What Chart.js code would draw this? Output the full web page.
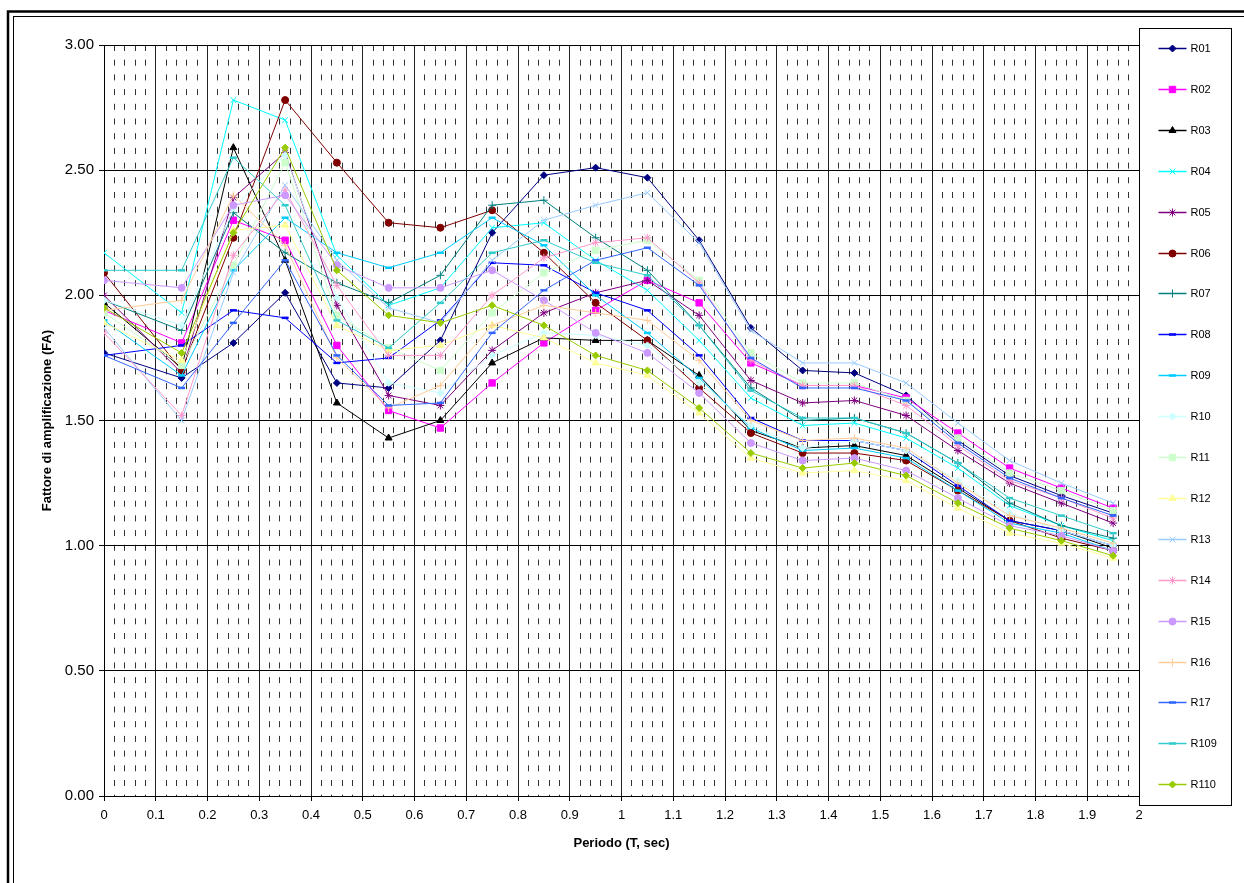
<!DOCTYPE html>
<html>
<head>
<meta charset="utf-8">
<title>Fattore di amplificazione</title>
<script src="https://cdn.jsdelivr.net/npm/chart.js@4/dist/chart.umd.min.js"></script>
<style>
  html, body { margin: 0; padding: 0; background: #fff; }
  #wrap { width: 1244px; height: 883px; }
</style>
</head>
<body>
<div id="wrap"><canvas id="fa" width="1244" height="883"></canvas></div>
<script>
// periods (T, sec)
const periods = [0, 0.15, 0.25, 0.35, 0.45, 0.55, 0.65, 0.75, 0.85, 0.95, 1.05, 1.15, 1.25, 1.35, 1.45, 1.55, 1.65, 1.75, 1.85, 1.95];

// amplification factor per site
const r01 = [1.77, 1.67, 1.81, 2.01, 1.65, 1.63, 1.82, 2.25, 2.48, 2.51, 2.47, 2.22, 1.87, 1.70, 1.69, 1.60, 1.42, 1.28, 1.20, 1.13];
const r02 = [1.94, 1.81, 2.30, 2.22, 1.80, 1.54, 1.47, 1.65, 1.81, 1.94, 2.06, 1.97, 1.73, 1.64, 1.64, 1.59, 1.45, 1.31, 1.23, 1.15];
const r03 = [1.97, 1.71, 2.59, 2.14, 1.57, 1.43, 1.50, 1.73, 1.83, 1.82, 1.82, 1.68, 1.46, 1.39, 1.40, 1.36, 1.23, 1.10, 1.06, 0.99];
const r04 = [2.17, 1.93, 2.78, 2.70, 2.16, 1.96, 2.03, 2.27, 2.29, 2.14, 2.02, 1.82, 1.59, 1.48, 1.49, 1.43, 1.31, 1.16, 1.08, 1.02];
const r05 = [2.00, 1.69, 2.39, 2.57, 1.96, 1.60, 1.56, 1.78, 1.93, 2.01, 2.06, 1.92, 1.66, 1.57, 1.58, 1.52, 1.38, 1.25, 1.17, 1.09];
const r06 = [2.09, 1.70, 2.23, 2.78, 2.53, 2.29, 2.27, 2.34, 2.17, 1.97, 1.82, 1.63, 1.45, 1.37, 1.37, 1.34, 1.22, 1.10, 1.03, 0.98];
const r07 = [1.98, 1.86, 2.33, 2.17, 2.05, 1.97, 2.08, 2.36, 2.38, 2.23, 2.10, 1.88, 1.63, 1.50, 1.51, 1.45, 1.33, 1.17, 1.08, 1.03];
const r08 = [1.76, 1.80, 1.94, 1.91, 1.73, 1.75, 1.90, 2.13, 2.12, 2.01, 1.94, 1.76, 1.51, 1.42, 1.42, 1.38, 1.24, 1.10, 1.06, 1.00];
const r09 = [1.90, 1.68, 2.10, 2.31, 2.17, 2.11, 2.17, 2.31, 2.20, 2.00, 1.85, 1.67, 1.47, 1.38, 1.39, 1.35, 1.22, 1.09, 1.05, 0.98];
const r10 = [1.98, 1.88, 2.35, 2.56, 1.99, 1.65, 1.61, 1.76, 1.85, 1.84, 1.80, 1.65, 1.48, 1.39, 1.42, 1.38, 1.26, 1.13, 1.06, 1.00];
const r11 = [1.93, 1.72, 2.12, 2.53, 1.92, 1.79, 1.70, 1.93, 2.09, 2.18, 2.22, 2.06, 1.77, 1.65, 1.65, 1.58, 1.43, 1.29, 1.22, 1.14];
const r12 = [1.89, 1.74, 2.26, 2.28, 1.88, 1.78, 1.80, 1.88, 1.83, 1.73, 1.68, 1.53, 1.35, 1.29, 1.30, 1.26, 1.15, 1.05, 1.01, 0.95];
const r13 = [1.87, 1.50, 2.09, 2.44, 2.14, 1.95, 1.89, 2.14, 2.30, 2.36, 2.41, 2.21, 1.86, 1.73, 1.73, 1.65, 1.49, 1.34, 1.25, 1.17];
const r14 = [1.85, 1.52, 2.16, 2.42, 2.04, 1.76, 1.76, 2.00, 2.15, 2.21, 2.23, 2.05, 1.74, 1.64, 1.64, 1.56, 1.40, 1.26, 1.19, 1.11];
const r15 = [2.06, 2.03, 2.36, 2.40, 2.12, 2.03, 2.03, 2.10, 1.98, 1.85, 1.77, 1.61, 1.41, 1.34, 1.35, 1.30, 1.19, 1.08, 1.04, 0.98];
const r16 = [1.94, 1.98, 2.40, 2.20, 1.75, 1.55, 1.64, 1.88, 1.96, 1.93, 1.90, 1.74, 1.50, 1.42, 1.43, 1.39, 1.25, 1.12, 1.07, 1.01];
const r17 = [1.76, 1.63, 1.89, 2.14, 1.76, 1.56, 1.57, 1.85, 2.02, 2.14, 2.19, 2.04, 1.75, 1.63, 1.63, 1.58, 1.41, 1.27, 1.19, 1.12];
const r109 = [2.10, 2.10, 2.55, 2.36, 1.90, 1.79, 1.97, 2.17, 2.22, 2.13, 2.08, 1.88, 1.62, 1.51, 1.51, 1.45, 1.33, 1.19, 1.12, 1.05];
const r110 = [1.95, 1.77, 2.25, 2.59, 2.10, 1.92, 1.89, 1.96, 1.88, 1.76, 1.70, 1.55, 1.37, 1.31, 1.33, 1.28, 1.17, 1.07, 1.02, 0.96];

const seriesNames = ['R01', 'R02', 'R03', 'R04', 'R05', 'R06', 'R07', 'R08', 'R09', 'R10',
  'R11', 'R12', 'R13', 'R14', 'R15', 'R16', 'R17', 'R109', 'R110'];
const seriesValues = [r01, r02, r03, r04, r05, r06, r07, r08, r09, r10,
  r11, r12, r13, r14, r15, r16, r17, r109, r110];
const seriesColors = ['#000080', '#FF00FF', '#000000', '#00FFFF', '#800080', '#800000', '#008080', '#0000FF', '#00CCFF', '#CCFFFF',
  '#CCFFCC', '#FFFF99', '#99CCFF', '#FF99CC', '#CC99FF', '#FFCC99', '#3366FF', '#33CCCC', '#99CC00'];
const seriesMarkers = ['rectRot', 'rect', 'triangle', 'crossRot', 'star', 'circle', 'cross', 'line', 'line', 'rectRot',
  'rect', 'triangle', 'crossRot', 'star', 'circle', 'cross', 'line', 'line', 'rectRot'];

const markerRadius = { rectRot: 3.5, rect: 4.5, triangle: 4, crossRot: 4, star: 4, circle: 3.5, cross: 4, line: 3.5 };
const markerBorder = m => (m === 'line' ? 2.5 : 1);

const datasets = seriesNames.map((name, i) => ({
  label: name,
  data: seriesValues[i].map((v, j) => ({ x: periods[j], y: v })),
  borderColor: seriesColors[i],
  backgroundColor: seriesColors[i],
  borderWidth: 1,
  pointStyle: seriesMarkers[i],
  pointRadius: markerRadius[seriesMarkers[i]],
  pointBorderWidth: markerBorder(seriesMarkers[i]),
  pointBackgroundColor: seriesColors[i],
  pointBorderColor: seriesColors[i],
  order: seriesNames.length - i,
  tension: 0,
  fill: false
}));

// white page with the double frame
const frame = {
  id: 'frame',
  beforeDraw(chart) {
    const ctx = chart.ctx;
    ctx.save();
    ctx.fillStyle = '#fff';
    ctx.fillRect(0, 0, chart.width, chart.height);
    ctx.strokeStyle = '#000';
    ctx.lineWidth = 2.5;
    ctx.strokeRect(8, 11.5, 1400, 1000);
    ctx.lineWidth = 1;
    ctx.strokeRect(13.5, 16.5, 1400, 1000);
    ctx.restore();
  }
};

// boxed legend to the right of the plot, line + marker samples
const legendBox = {
  id: 'legendBox',
  afterDraw(chart) {
    const ctx = chart.ctx;
    const left = chart.chartArea.right + 0.5;
    ctx.save();
    ctx.fillStyle = '#fff';
    ctx.fillRect(left, 28.5, 92, 777);
    ctx.strokeStyle = '#000';
    ctx.lineWidth = 1;
    ctx.strokeRect(left, 28.5, 92, 777);
    const drawPoint = Chart.helpers && Chart.helpers.drawPoint;
    chart.data.datasets.forEach((ds, i) => {
      const y = Math.round(48 + i * 40.9) + 0.5;
      ctx.strokeStyle = ds.borderColor;
      ctx.fillStyle = ds.borderColor;
      ctx.lineWidth = 1.5;
      ctx.beginPath();
      ctx.moveTo(left + 19, y);
      ctx.lineTo(left + 47, y);
      ctx.stroke();
      if (drawPoint) {
        ctx.lineWidth = ds.pointBorderWidth;
        drawPoint(ctx, { pointStyle: ds.pointStyle, rotation: 0, radius: ds.pointRadius, borderWidth: ds.pointBorderWidth }, left + 33, y);
      }
      ctx.fillStyle = '#000';
      ctx.font = "11px 'Liberation Sans', Arial, sans-serif";
      ctx.textBaseline = 'middle';
      ctx.textAlign = 'left';
      ctx.fillText(ds.label, left + 51, y);
    });
    ctx.restore();
  }
};

Chart.defaults.font.family = "'Liberation Sans', Arial, sans-serif";
Chart.defaults.color = '#000';

new Chart(document.getElementById('fa'), {
  type: 'line',
  data: { datasets: datasets },
  options: {
    responsive: false,
    animation: false,
    devicePixelRatio: 1,
    layout: { padding: { left: 0, right: 105, top: 45, bottom: 0 } },
    plugins: {
      legend: { display: false },
      tooltip: { enabled: false }
    },
    scales: {
      x: {
        type: 'linear',
        position: 'bottom',
        min: 0,
        max: 2,
        ticks: {
          stepSize: 0.1,
          autoSkip: false,
          maxRotation: 0,
          color: '#000',
          font: { size: 13 },
          padding: 7,
          callback: v => String(Math.round(v * 10) / 10)
        },
        grid: { color: '#222', lineWidth: 1, tickLength: 5, tickColor: '#000' },
        border: { color: '#000', width: 1 },
        title: {
          display: true,
          text: 'Periodo (T, sec)',
          color: '#000',
          font: { size: 13, weight: 'bold' },
          padding: { top: 0, bottom: 32 }
        },
        afterFit(scale) { scale.height = 87; }
      },
      xMinor: {
        type: 'linear',
        position: 'top',
        min: 0,
        max: 2,
        ticks: { display: false, stepSize: 0.02 },
        grid: {
          drawTicks: false,
          lineWidth: 1,
          color: c => (c.tick && Math.round(c.tick.value * 50) % 5 !== 0 ? '#333' : 'rgba(0,0,0,0)')
        },
        border: { display: false, dash: [6, 8.7] },
        afterFit(scale) { scale.height = 0; }
      },
      y: {
        min: 0,
        max: 3,
        ticks: {
          stepSize: 0.5,
          color: '#000',
          font: { size: 15 },
          padding: 5,
          callback: v => v.toFixed(2)
        },
        grid: { color: '#000', lineWidth: 1, tickLength: 5, tickColor: '#000' },
        border: { color: '#000', width: 1 },
        title: {
          display: true,
          text: 'Fattore di amplificazione (FA)',
          color: '#000',
          font: { size: 13, weight: 'bold' },
          padding: { top: 40, bottom: 0 }
        },
        afterFit(scale) { scale.width = 104; }
      }
    }
  },
  plugins: [frame, legendBox]
});
</script>
</body>
</html>
